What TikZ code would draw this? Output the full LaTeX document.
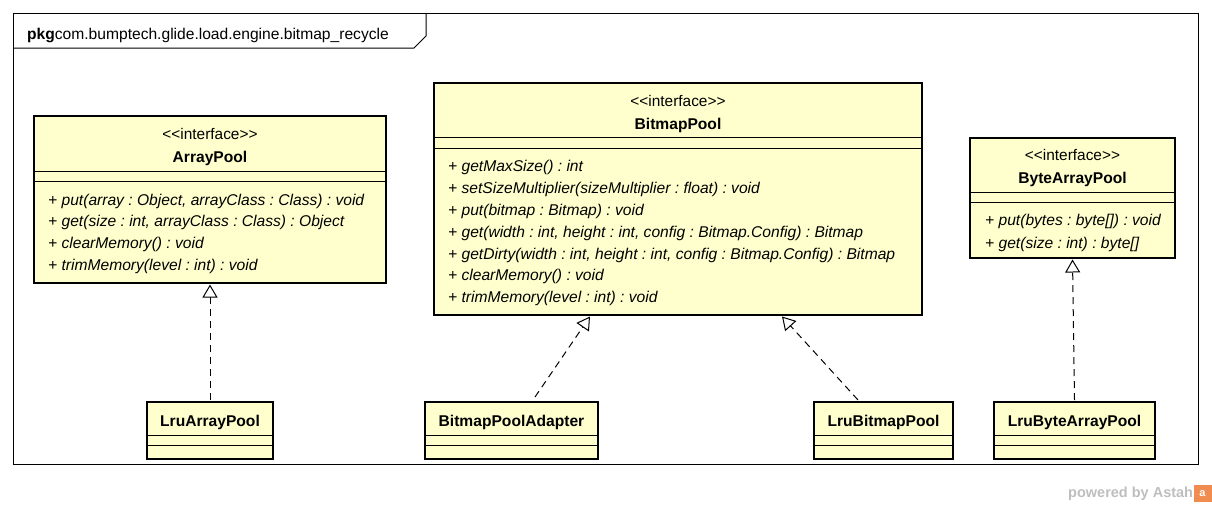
\documentclass[tikz,border=0pt]{standalone}
\usepackage{fontspec}
\newfontfamily\umlf{Liberation Sans}
\usetikzlibrary{arrows.meta}
\definecolor{clsfill}{RGB}{255,255,206}
\definecolor{astahgray}{RGB}{190,190,190}
\definecolor{astahorange}{RGB}{240,140,80}
\tikzset{
  cls/.style={draw=black, line width=2.6pt, fill=clsfill, inner sep=0pt, outer sep=0pt, anchor=north west},
  sepline/.style={draw=black, line width=0.9pt},
  txt/.style={inner sep=0pt, font=\umlf\frenchspacing\fontsize{15.4}{18}\selectfont},
  stereo/.style={txt, anchor=base},
  cname/.style={inner sep=0pt, anchor=base, font=\umlf\frenchspacing\bfseries\fontsize{15.6}{18}\selectfont},
  meth/.style={txt, anchor=base west, font=\umlf\frenchspacing\itshape\fontsize{15.6}{18}\selectfont},
  realize/.style={draw=black, line width=1pt, dash pattern=on 7pt off 5pt, -{Triangle[open, length=13pt, width=15pt, fill=white]}},
  frameline/.style={draw=black, line width=1pt}
}
\newcommand{\pl}{+\ }
\begin{document}
\begin{tikzpicture}[x=1pt,y=-1pt]
\useasboundingbox (0,0) rectangle (1212,504);
% package frame
\draw[frameline] (13,13) rectangle (1198,464);
\draw[frameline] (13,48) -- (414,48) -- (426,36) -- (426,13);
\node[anchor=base west, inner sep=0pt, font=\umlf\fontsize{15.6}{18}\selectfont] (pkg) at (27,39) {\textbf{pkg}com.bumptech.glide.load.engine.bitmap\_recycle};

% ArrayPool
\node[cls, minimum width=352pt, minimum height=167pt] (arraypool) at (34,116) {};
\draw[sepline] (34,171) -- (386,171);
\draw[sepline] (34,181) -- (386,181);
\node[stereo] (ap-st) at (210,139) {<{}<interface>{}>};
\node[cname] (ap-nm) at (210,162) {ArrayPool};
\node[meth] (ap-m1) at (48,205) {\pl put(array : Object, arrayClass : Class) : void};
\node[meth] (ap-m2) at (48,226) {\pl get(size : int, arrayClass : Class) : Object};
\node[meth] (ap-m3) at (48,248) {\pl clearMemory() : void};
\node[meth] (ap-m4) at (48,270) {\pl trimMemory(level : int) : void};

% BitmapPool
\node[cls, minimum width=488pt, minimum height=232pt] (bitmappool) at (434,83) {};
\draw[sepline] (434,137) -- (922,137);
\draw[sepline] (434,148) -- (922,148);
\node[stereo] (bp-st) at (678,106) {<{}<interface>{}>};
\node[cname] (bp-nm) at (678,129) {BitmapPool};
\node[meth] (bp-m1) at (448,171) {\pl getMaxSize() : int};
\node[meth] (bp-m2) at (448,193) {\pl setSizeMultiplier(sizeMultiplier : float) : void};
\node[meth] (bp-m3) at (448,215) {\pl put(bitmap : Bitmap) : void};
\node[meth] (bp-m4) at (448,237) {\pl get(width : int, height : int, config : Bitmap.Config) : Bitmap};
\node[meth] (bp-m5) at (448,259) {\pl getDirty(width : int, height : int, config : Bitmap.Config) : Bitmap};
\node[meth] (bp-m6) at (448,280) {\pl clearMemory() : void};
\node[meth] (bp-m7) at (448,302) {\pl trimMemory(level : int) : void};

% ByteArrayPool
\node[cls, minimum width=205pt, minimum height=120pt] (bytearraypool) at (970,138) {};
\draw[sepline] (970,192) -- (1175,192);
\draw[sepline] (970,202) -- (1175,202);
\node[stereo] (bap-st) at (1072.5,160) {<{}<interface>{}>};
\node[cname] (bap-nm) at (1072.5,183) {ByteArrayPool};
\node[meth] (bap-m1) at (985,225) {\pl put(bytes : byte[]) : void};
\node[meth] (bap-m2) at (985,248) {\pl get(size : int) : byte[]};

% implementation classes
\node[cls, minimum width=126pt, minimum height=57pt] (lruarraypool) at (147,402) {};
\draw[sepline] (147,435) -- (273,435);
\draw[sepline] (147,445) -- (273,445);
\node[cname] (lap-nm) at (210,426) {LruArrayPool};

\node[cls, minimum width=173pt, minimum height=57pt] (adapter) at (425,402) {};
\draw[sepline] (425,435) -- (598,435);
\draw[sepline] (425,445) -- (598,445);
\node[cname] (ad-nm) at (511.5,426) {BitmapPoolAdapter};

\node[cls, minimum width=139pt, minimum height=57pt] (lrubitmappool) at (814,402) {};
\draw[sepline] (814,435) -- (953,435);
\draw[sepline] (814,445) -- (953,445);
\node[cname] (lbp-nm) at (883.5,426) {LruBitmapPool};

\node[cls, minimum width=161pt, minimum height=57pt] (lrubytearraypool) at (994,402) {};
\draw[sepline] (994,435) -- (1155,435);
\draw[sepline] (994,445) -- (1155,445);
\node[cname] (lbap-nm) at (1074.5,426) {LruByteArrayPool};

% realizations
\draw[realize] ([yshift=2pt]lruarraypool.north) -- ([yshift=-1.5pt]arraypool.south);
\draw[realize] ([xshift=23.5pt,yshift=5pt]adapter.north) -- ([xshift=-88pt,yshift=-1.5pt]bitmappool.south);
\draw[realize] ([xshift=-25.5pt,yshift=2pt]lrubitmappool.north) -- ([xshift=104pt,yshift=-1.5pt]bitmappool.south);
\draw[realize] ([yshift=2pt]lrubytearraypool.north) -- ([yshift=-1.5pt]bytearraypool.south);

% watermark
\node[anchor=base west, inner sep=0pt, text=astahgray, font=\umlf\bfseries\fontsize{14.5}{17}\selectfont] (astah) at (1068,497) {powered by Astah};
\node[anchor=west, inner sep=0pt, fill=astahorange, minimum width=18pt, minimum height=17pt, text=white, font=\umlf\bfseries\fontsize{11}{12}\selectfont] (logo) at (astah.east) {a};
\end{tikzpicture}
\end{document}
